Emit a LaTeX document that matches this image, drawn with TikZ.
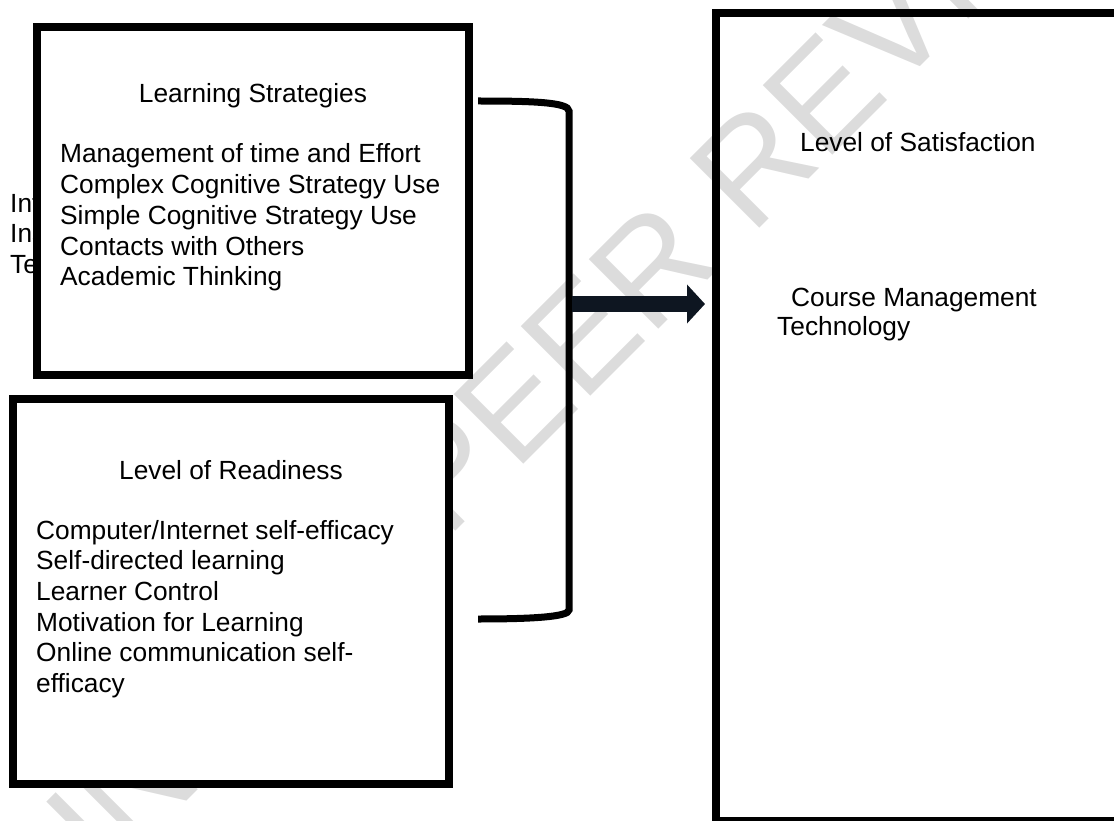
\documentclass[tikz,border=0pt]{standalone}
\usepackage{fontspec}
\setmainfont{Liberation Sans}
\usetikzlibrary{arrows.meta}
\definecolor{arrowc}{HTML}{0E1621}
\definecolor{markc}{HTML}{DCDCDC}

\begin{document}
\begin{tikzpicture}[x=1pt, y=-1pt,
    box/.style={draw, line width=8pt, inner sep=0pt},
    txt/.style={anchor=base west, inner sep=0pt, font=\fontsize{26.3}{30.7}\selectfont},
    head/.style={anchor=base, inner sep=0pt, font=\fontsize{26.3}{30.7}\selectfont}]
  \useasboundingbox (0,0) rectangle (1114,821);
  \clip (0,0) rectangle (1114,821);
  % watermark
  \node[text=markc, font=\fontsize{143}{143}\selectfont, rotate=45, inner sep=0pt] (mark) at (571,348) {UNDER PEER REVIEW};
  % text hidden behind the first box
  \foreach \t [count=\i] in {Int, Ins, Te}
    \node[txt] (hid\i) at (10, {213+30*(\i-1)}) {\t};
  \node[box, fill=white, minimum width=432pt, minimum height=347.5pt] (ls) at (253,200.75) {};
  \node[box, fill=white, minimum width=436pt, minimum height=385pt] (lr) at (231,591.5) {};
  \node[box, minimum width=406pt, minimum height=808pt] (sat) at (919,417) {};
  \node[head] (lstitle) at (253,103) {Learning Strategies};
  \foreach \t [count=\i] in {Management of time and Effort, Complex Cognitive Strategy Use, Simple Cognitive Strategy Use, Contacts with Others, Academic Thinking}
    \node[txt] (ls\i) at (60, {163+30.7*(\i-1)}) {\t};
  \node[head] (lrtitle) at (231,479) {Level of Readiness};
  \foreach \t [count=\i] in {Computer/Internet self-efficacy, Self-directed learning, Learner Control, Motivation for Learning, Online communication self-, efficacy}
    \node[txt] (lr\i) at (36, {539+30.7*(\i-1)}) {\t};
  \node[txt] (sattitle) at (800,152) {Level of Satisfaction};
  \node[txt] (cm1) at (791,306) {Course Management};
  \node[txt] (cm2) at (777,335) {Technology};
  % bracket and arrow
  \coordinate (brtop) at (478,101);
  \coordinate (brbot) at (478,619);
  \draw[line width=7pt] (brtop) .. controls (530,101) and (569,102) .. (569,111) -- (569,610) .. controls (569,617) and (530,619) .. (brbot);
  \coordinate (from) at (572,304);
  \coordinate (to) at (705,304);
  \draw[arrowc, line width=16pt, -{Triangle[length=18pt,width=38pt]}] (from) -- (to);
\end{tikzpicture}
\end{document}
